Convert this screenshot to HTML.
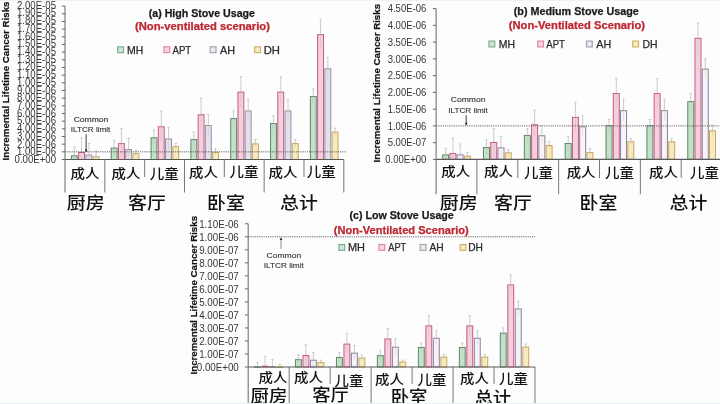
<!DOCTYPE html>
<html><head><meta charset="utf-8"><title>Incremental Lifetime Cancer Risks</title>
<style>
html,body{margin:0;padding:0;background:#fdfdfd;}
body{width:720px;height:404px;overflow:hidden;position:relative;}
.top{position:absolute;left:0;top:0;width:720px;height:1.2px;background:#ecf2fb;z-index:2;}
.bot{position:absolute;left:0;top:403px;width:720px;height:1px;background:#eef2f7;z-index:2;}
svg{position:absolute;left:0;top:0;filter:blur(0.4px);}
</style></head>
<body>
<div class="top"></div><div class="bot"></div>
<svg width="720" height="404" viewBox="0 0 720 404" shape-rendering="auto">
<line x1="61.80" y1="159.50" x2="65.00" y2="159.50" stroke="#555" stroke-width="0.9"/>
<text x="56.00" y="163.04" font-size="10.4" text-anchor="end" font-weight="normal" fill="#363636" font-family='"Liberation Sans", sans-serif' textLength="41.41" lengthAdjust="spacingAndGlyphs" stroke="#363636" stroke-width="0">0.00E+00</text>
<line x1="61.80" y1="151.83" x2="65.00" y2="151.83" stroke="#555" stroke-width="0.9"/>
<text x="56.00" y="155.32" font-size="10.4" text-anchor="end" font-weight="normal" fill="#363636" font-family='"Liberation Sans", sans-serif' textLength="39.00" lengthAdjust="spacingAndGlyphs" stroke="#363636" stroke-width="0">1.00E-06</text>
<line x1="61.80" y1="144.16" x2="65.00" y2="144.16" stroke="#555" stroke-width="0.9"/>
<text x="56.00" y="147.60" font-size="10.4" text-anchor="end" font-weight="normal" fill="#363636" font-family='"Liberation Sans", sans-serif' textLength="39.00" lengthAdjust="spacingAndGlyphs" stroke="#363636" stroke-width="0">2.00E-06</text>
<line x1="61.80" y1="136.49" x2="65.00" y2="136.49" stroke="#555" stroke-width="0.9"/>
<text x="56.00" y="139.88" font-size="10.4" text-anchor="end" font-weight="normal" fill="#363636" font-family='"Liberation Sans", sans-serif' textLength="39.00" lengthAdjust="spacingAndGlyphs" stroke="#363636" stroke-width="0">3.00E-06</text>
<line x1="61.80" y1="128.82" x2="65.00" y2="128.82" stroke="#555" stroke-width="0.9"/>
<text x="56.00" y="132.16" font-size="10.4" text-anchor="end" font-weight="normal" fill="#363636" font-family='"Liberation Sans", sans-serif' textLength="39.00" lengthAdjust="spacingAndGlyphs" stroke="#363636" stroke-width="0">4.00E-06</text>
<line x1="61.80" y1="121.15" x2="65.00" y2="121.15" stroke="#555" stroke-width="0.9"/>
<text x="56.00" y="124.44" font-size="10.4" text-anchor="end" font-weight="normal" fill="#363636" font-family='"Liberation Sans", sans-serif' textLength="39.00" lengthAdjust="spacingAndGlyphs" stroke="#363636" stroke-width="0">5.00E-06</text>
<line x1="61.80" y1="113.48" x2="65.00" y2="113.48" stroke="#555" stroke-width="0.9"/>
<text x="56.00" y="116.72" font-size="10.4" text-anchor="end" font-weight="normal" fill="#363636" font-family='"Liberation Sans", sans-serif' textLength="39.00" lengthAdjust="spacingAndGlyphs" stroke="#363636" stroke-width="0">6.00E-06</text>
<line x1="61.80" y1="105.81" x2="65.00" y2="105.81" stroke="#555" stroke-width="0.9"/>
<text x="56.00" y="109.00" font-size="10.4" text-anchor="end" font-weight="normal" fill="#363636" font-family='"Liberation Sans", sans-serif' textLength="39.00" lengthAdjust="spacingAndGlyphs" stroke="#363636" stroke-width="0">7.00E-06</text>
<line x1="61.80" y1="98.14" x2="65.00" y2="98.14" stroke="#555" stroke-width="0.9"/>
<text x="56.00" y="101.28" font-size="10.4" text-anchor="end" font-weight="normal" fill="#363636" font-family='"Liberation Sans", sans-serif' textLength="39.00" lengthAdjust="spacingAndGlyphs" stroke="#363636" stroke-width="0">8.00E-06</text>
<line x1="61.80" y1="90.47" x2="65.00" y2="90.47" stroke="#555" stroke-width="0.9"/>
<text x="56.00" y="93.56" font-size="10.4" text-anchor="end" font-weight="normal" fill="#363636" font-family='"Liberation Sans", sans-serif' textLength="39.00" lengthAdjust="spacingAndGlyphs" stroke="#363636" stroke-width="0">9.00E-06</text>
<line x1="61.80" y1="82.80" x2="65.00" y2="82.80" stroke="#555" stroke-width="0.9"/>
<text x="56.00" y="85.84" font-size="10.4" text-anchor="end" font-weight="normal" fill="#363636" font-family='"Liberation Sans", sans-serif' textLength="39.00" lengthAdjust="spacingAndGlyphs" stroke="#363636" stroke-width="0">1.00E-05</text>
<line x1="61.80" y1="75.13" x2="65.00" y2="75.13" stroke="#555" stroke-width="0.9"/>
<text x="56.00" y="78.12" font-size="10.4" text-anchor="end" font-weight="normal" fill="#363636" font-family='"Liberation Sans", sans-serif' textLength="39.00" lengthAdjust="spacingAndGlyphs" stroke="#363636" stroke-width="0">1.10E-05</text>
<line x1="61.80" y1="67.46" x2="65.00" y2="67.46" stroke="#555" stroke-width="0.9"/>
<text x="56.00" y="70.40" font-size="10.4" text-anchor="end" font-weight="normal" fill="#363636" font-family='"Liberation Sans", sans-serif' textLength="39.00" lengthAdjust="spacingAndGlyphs" stroke="#363636" stroke-width="0">1.20E-05</text>
<line x1="61.80" y1="59.79" x2="65.00" y2="59.79" stroke="#555" stroke-width="0.9"/>
<text x="56.00" y="62.68" font-size="10.4" text-anchor="end" font-weight="normal" fill="#363636" font-family='"Liberation Sans", sans-serif' textLength="39.00" lengthAdjust="spacingAndGlyphs" stroke="#363636" stroke-width="0">1.30E-05</text>
<line x1="61.80" y1="52.12" x2="65.00" y2="52.12" stroke="#555" stroke-width="0.9"/>
<text x="56.00" y="54.96" font-size="10.4" text-anchor="end" font-weight="normal" fill="#363636" font-family='"Liberation Sans", sans-serif' textLength="39.00" lengthAdjust="spacingAndGlyphs" stroke="#363636" stroke-width="0">1.40E-05</text>
<line x1="61.80" y1="44.45" x2="65.00" y2="44.45" stroke="#555" stroke-width="0.9"/>
<text x="56.00" y="47.24" font-size="10.4" text-anchor="end" font-weight="normal" fill="#363636" font-family='"Liberation Sans", sans-serif' textLength="39.00" lengthAdjust="spacingAndGlyphs" stroke="#363636" stroke-width="0">1.50E-05</text>
<line x1="61.80" y1="36.78" x2="65.00" y2="36.78" stroke="#555" stroke-width="0.9"/>
<text x="56.00" y="39.52" font-size="10.4" text-anchor="end" font-weight="normal" fill="#363636" font-family='"Liberation Sans", sans-serif' textLength="39.00" lengthAdjust="spacingAndGlyphs" stroke="#363636" stroke-width="0">1.60E-05</text>
<line x1="61.80" y1="29.11" x2="65.00" y2="29.11" stroke="#555" stroke-width="0.9"/>
<text x="56.00" y="31.80" font-size="10.4" text-anchor="end" font-weight="normal" fill="#363636" font-family='"Liberation Sans", sans-serif' textLength="39.00" lengthAdjust="spacingAndGlyphs" stroke="#363636" stroke-width="0">1.70E-05</text>
<line x1="61.80" y1="21.44" x2="65.00" y2="21.44" stroke="#555" stroke-width="0.9"/>
<text x="56.00" y="24.08" font-size="10.4" text-anchor="end" font-weight="normal" fill="#363636" font-family='"Liberation Sans", sans-serif' textLength="39.00" lengthAdjust="spacingAndGlyphs" stroke="#363636" stroke-width="0">1.80E-05</text>
<line x1="61.80" y1="13.77" x2="65.00" y2="13.77" stroke="#555" stroke-width="0.9"/>
<text x="56.00" y="16.36" font-size="10.4" text-anchor="end" font-weight="normal" fill="#363636" font-family='"Liberation Sans", sans-serif' textLength="39.00" lengthAdjust="spacingAndGlyphs" stroke="#363636" stroke-width="0">1.90E-05</text>
<line x1="61.80" y1="6.10" x2="65.00" y2="6.10" stroke="#555" stroke-width="0.9"/>
<text x="56.00" y="8.64" font-size="10.4" text-anchor="end" font-weight="normal" fill="#363636" font-family='"Liberation Sans", sans-serif' textLength="39.00" lengthAdjust="spacingAndGlyphs" stroke="#363636" stroke-width="0">2.00E-05</text>
<line x1="65.00" y1="6.10" x2="65.00" y2="192.50" stroke="#666" stroke-width="1"/>
<line x1="104.83" y1="159.50" x2="104.83" y2="192.50" stroke="#777" stroke-width="1"/>
<line x1="144.66" y1="159.50" x2="144.66" y2="177.00" stroke="#777" stroke-width="1"/>
<line x1="184.49" y1="159.50" x2="184.49" y2="192.50" stroke="#777" stroke-width="1"/>
<line x1="224.32" y1="159.50" x2="224.32" y2="177.00" stroke="#777" stroke-width="1"/>
<line x1="264.15" y1="159.50" x2="264.15" y2="192.50" stroke="#777" stroke-width="1"/>
<line x1="303.98" y1="159.50" x2="303.98" y2="177.00" stroke="#777" stroke-width="1"/>
<line x1="343.81" y1="159.50" x2="343.81" y2="192.50" stroke="#777" stroke-width="1"/>
<rect x="71.39" y="155.78" width="5.90" height="3.72" fill="#c4e0c6" stroke="#5b886b" stroke-width="1"/>
<line x1="74.34" y1="147.23" x2="74.34" y2="155.28" stroke="#b8b8b8" stroke-width="0.7"/>
<line x1="74.34" y1="155.28" x2="74.34" y2="159.50" stroke="#b0b0b0" stroke-width="0.6" stroke-opacity="0.5"/>
<line x1="73.04" y1="147.23" x2="75.64" y2="147.23" stroke="#b8b8b8" stroke-width="0.7"/>
<rect x="78.64" y="152.48" width="5.90" height="7.02" fill="#f4d0de" stroke="#c95a80" stroke-width="1"/>
<line x1="81.59" y1="138.02" x2="81.59" y2="151.98" stroke="#b8b8b8" stroke-width="0.7"/>
<line x1="81.59" y1="151.98" x2="81.59" y2="159.50" stroke="#b0b0b0" stroke-width="0.6" stroke-opacity="0.5"/>
<line x1="80.29" y1="138.02" x2="82.89" y2="138.02" stroke="#b8b8b8" stroke-width="0.7"/>
<rect x="85.89" y="155.09" width="5.90" height="4.41" fill="#e3e2ea" stroke="#9790a4" stroke-width="1"/>
<line x1="88.84" y1="143.39" x2="88.84" y2="154.59" stroke="#b8b8b8" stroke-width="0.7"/>
<line x1="88.84" y1="154.59" x2="88.84" y2="159.50" stroke="#b0b0b0" stroke-width="0.6" stroke-opacity="0.5"/>
<line x1="87.54" y1="143.39" x2="90.14" y2="143.39" stroke="#b8b8b8" stroke-width="0.7"/>
<rect x="93.14" y="156.70" width="5.90" height="2.80" fill="#f7eac0" stroke="#c9a95c" stroke-width="1"/>
<line x1="96.09" y1="151.06" x2="96.09" y2="156.20" stroke="#b8b8b8" stroke-width="0.7"/>
<line x1="96.09" y1="156.20" x2="96.09" y2="159.50" stroke="#b0b0b0" stroke-width="0.6" stroke-opacity="0.5"/>
<line x1="94.79" y1="151.06" x2="97.39" y2="151.06" stroke="#b8b8b8" stroke-width="0.7"/>
<rect x="111.22" y="148.03" width="5.90" height="11.47" fill="#c4e0c6" stroke="#5b886b" stroke-width="1"/>
<line x1="114.17" y1="140.32" x2="114.17" y2="147.53" stroke="#b8b8b8" stroke-width="0.7"/>
<line x1="114.17" y1="147.53" x2="114.17" y2="154.74" stroke="#b0b0b0" stroke-width="0.6" stroke-opacity="0.5"/>
<line x1="112.87" y1="140.32" x2="115.47" y2="140.32" stroke="#b8b8b8" stroke-width="0.7"/>
<rect x="118.47" y="143.59" width="5.90" height="15.91" fill="#f4d0de" stroke="#c95a80" stroke-width="1"/>
<line x1="121.42" y1="128.28" x2="121.42" y2="143.09" stroke="#b8b8b8" stroke-width="0.7"/>
<line x1="121.42" y1="143.09" x2="121.42" y2="157.89" stroke="#b0b0b0" stroke-width="0.6" stroke-opacity="0.5"/>
<line x1="120.12" y1="128.28" x2="122.72" y2="128.28" stroke="#b8b8b8" stroke-width="0.7"/>
<rect x="125.72" y="149.57" width="5.90" height="9.93" fill="#e3e2ea" stroke="#9790a4" stroke-width="1"/>
<line x1="128.67" y1="138.02" x2="128.67" y2="149.07" stroke="#b8b8b8" stroke-width="0.7"/>
<line x1="128.67" y1="149.07" x2="128.67" y2="159.50" stroke="#b0b0b0" stroke-width="0.6" stroke-opacity="0.5"/>
<line x1="127.37" y1="138.02" x2="129.97" y2="138.02" stroke="#b8b8b8" stroke-width="0.7"/>
<rect x="132.97" y="153.63" width="5.90" height="5.87" fill="#f7eac0" stroke="#c9a95c" stroke-width="1"/>
<line x1="135.92" y1="150.30" x2="135.92" y2="153.13" stroke="#b8b8b8" stroke-width="0.7"/>
<line x1="135.92" y1="153.13" x2="135.92" y2="155.97" stroke="#b0b0b0" stroke-width="0.6" stroke-opacity="0.5"/>
<line x1="134.62" y1="150.30" x2="137.22" y2="150.30" stroke="#b8b8b8" stroke-width="0.7"/>
<rect x="151.05" y="137.76" width="5.90" height="21.74" fill="#c4e0c6" stroke="#5b886b" stroke-width="1"/>
<line x1="154.00" y1="130.35" x2="154.00" y2="137.26" stroke="#b8b8b8" stroke-width="0.7"/>
<line x1="154.00" y1="137.26" x2="154.00" y2="144.16" stroke="#b0b0b0" stroke-width="0.6" stroke-opacity="0.5"/>
<line x1="152.70" y1="130.35" x2="155.30" y2="130.35" stroke="#b8b8b8" stroke-width="0.7"/>
<rect x="158.30" y="126.79" width="5.90" height="32.71" fill="#f4d0de" stroke="#c95a80" stroke-width="1"/>
<line x1="161.25" y1="111.18" x2="161.25" y2="126.29" stroke="#b8b8b8" stroke-width="0.7"/>
<line x1="161.25" y1="126.29" x2="161.25" y2="141.40" stroke="#b0b0b0" stroke-width="0.6" stroke-opacity="0.5"/>
<line x1="159.95" y1="111.18" x2="162.55" y2="111.18" stroke="#b8b8b8" stroke-width="0.7"/>
<rect x="165.55" y="138.91" width="5.90" height="20.59" fill="#e3e2ea" stroke="#9790a4" stroke-width="1"/>
<line x1="168.50" y1="127.29" x2="168.50" y2="138.41" stroke="#b8b8b8" stroke-width="0.7"/>
<line x1="168.50" y1="138.41" x2="168.50" y2="149.53" stroke="#b0b0b0" stroke-width="0.6" stroke-opacity="0.5"/>
<line x1="167.20" y1="127.29" x2="169.80" y2="127.29" stroke="#b8b8b8" stroke-width="0.7"/>
<rect x="172.80" y="146.58" width="5.90" height="12.92" fill="#f7eac0" stroke="#c9a95c" stroke-width="1"/>
<line x1="175.75" y1="143.39" x2="175.75" y2="146.08" stroke="#b8b8b8" stroke-width="0.7"/>
<line x1="175.75" y1="146.08" x2="175.75" y2="148.76" stroke="#b0b0b0" stroke-width="0.6" stroke-opacity="0.5"/>
<line x1="174.45" y1="143.39" x2="177.05" y2="143.39" stroke="#b8b8b8" stroke-width="0.7"/>
<rect x="190.88" y="139.60" width="5.90" height="19.90" fill="#c4e0c6" stroke="#5b886b" stroke-width="1"/>
<line x1="193.83" y1="131.89" x2="193.83" y2="139.10" stroke="#b8b8b8" stroke-width="0.7"/>
<line x1="193.83" y1="139.10" x2="193.83" y2="146.31" stroke="#b0b0b0" stroke-width="0.6" stroke-opacity="0.5"/>
<line x1="192.53" y1="131.89" x2="195.13" y2="131.89" stroke="#b8b8b8" stroke-width="0.7"/>
<rect x="198.13" y="114.75" width="5.90" height="44.75" fill="#f4d0de" stroke="#c95a80" stroke-width="1"/>
<line x1="201.08" y1="98.14" x2="201.08" y2="114.25" stroke="#b8b8b8" stroke-width="0.7"/>
<line x1="201.08" y1="114.25" x2="201.08" y2="130.35" stroke="#b0b0b0" stroke-width="0.6" stroke-opacity="0.5"/>
<line x1="199.78" y1="98.14" x2="202.38" y2="98.14" stroke="#b8b8b8" stroke-width="0.7"/>
<rect x="205.38" y="125.48" width="5.90" height="34.02" fill="#e3e2ea" stroke="#9790a4" stroke-width="1"/>
<line x1="208.33" y1="114.25" x2="208.33" y2="124.98" stroke="#b8b8b8" stroke-width="0.7"/>
<line x1="208.33" y1="124.98" x2="208.33" y2="135.72" stroke="#b0b0b0" stroke-width="0.6" stroke-opacity="0.5"/>
<line x1="207.03" y1="114.25" x2="209.63" y2="114.25" stroke="#b8b8b8" stroke-width="0.7"/>
<rect x="212.63" y="152.33" width="5.90" height="7.17" fill="#f7eac0" stroke="#c9a95c" stroke-width="1"/>
<line x1="215.58" y1="148.76" x2="215.58" y2="151.83" stroke="#b8b8b8" stroke-width="0.7"/>
<line x1="215.58" y1="151.83" x2="215.58" y2="154.90" stroke="#b0b0b0" stroke-width="0.6" stroke-opacity="0.5"/>
<line x1="214.28" y1="148.76" x2="216.88" y2="148.76" stroke="#b8b8b8" stroke-width="0.7"/>
<rect x="230.71" y="118.58" width="5.90" height="40.92" fill="#c4e0c6" stroke="#5b886b" stroke-width="1"/>
<line x1="233.66" y1="110.80" x2="233.66" y2="118.08" stroke="#b8b8b8" stroke-width="0.7"/>
<line x1="233.66" y1="118.08" x2="233.66" y2="125.37" stroke="#b0b0b0" stroke-width="0.6" stroke-opacity="0.5"/>
<line x1="232.36" y1="110.80" x2="234.96" y2="110.80" stroke="#b8b8b8" stroke-width="0.7"/>
<rect x="237.96" y="92.12" width="5.90" height="67.38" fill="#f4d0de" stroke="#c95a80" stroke-width="1"/>
<line x1="240.91" y1="76.66" x2="240.91" y2="91.62" stroke="#b8b8b8" stroke-width="0.7"/>
<line x1="240.91" y1="91.62" x2="240.91" y2="106.58" stroke="#b0b0b0" stroke-width="0.6" stroke-opacity="0.5"/>
<line x1="239.61" y1="76.66" x2="242.21" y2="76.66" stroke="#b8b8b8" stroke-width="0.7"/>
<rect x="245.21" y="110.91" width="5.90" height="48.59" fill="#e3e2ea" stroke="#9790a4" stroke-width="1"/>
<line x1="248.16" y1="99.29" x2="248.16" y2="110.41" stroke="#b8b8b8" stroke-width="0.7"/>
<line x1="248.16" y1="110.41" x2="248.16" y2="121.53" stroke="#b0b0b0" stroke-width="0.6" stroke-opacity="0.5"/>
<line x1="246.86" y1="99.29" x2="249.46" y2="99.29" stroke="#b8b8b8" stroke-width="0.7"/>
<rect x="252.46" y="143.89" width="5.90" height="15.61" fill="#f7eac0" stroke="#c9a95c" stroke-width="1"/>
<line x1="255.41" y1="139.56" x2="255.41" y2="143.39" stroke="#b8b8b8" stroke-width="0.7"/>
<line x1="255.41" y1="143.39" x2="255.41" y2="147.23" stroke="#b0b0b0" stroke-width="0.6" stroke-opacity="0.5"/>
<line x1="254.11" y1="139.56" x2="256.71" y2="139.56" stroke="#b8b8b8" stroke-width="0.7"/>
<rect x="270.54" y="123.57" width="5.90" height="35.93" fill="#c4e0c6" stroke="#5b886b" stroke-width="1"/>
<line x1="273.49" y1="115.78" x2="273.49" y2="123.07" stroke="#b8b8b8" stroke-width="0.7"/>
<line x1="273.49" y1="123.07" x2="273.49" y2="130.35" stroke="#b0b0b0" stroke-width="0.6" stroke-opacity="0.5"/>
<line x1="272.19" y1="115.78" x2="274.79" y2="115.78" stroke="#b8b8b8" stroke-width="0.7"/>
<rect x="277.79" y="92.12" width="5.90" height="67.38" fill="#f4d0de" stroke="#c95a80" stroke-width="1"/>
<line x1="280.74" y1="76.66" x2="280.74" y2="91.62" stroke="#b8b8b8" stroke-width="0.7"/>
<line x1="280.74" y1="91.62" x2="280.74" y2="106.58" stroke="#b0b0b0" stroke-width="0.6" stroke-opacity="0.5"/>
<line x1="279.44" y1="76.66" x2="282.04" y2="76.66" stroke="#b8b8b8" stroke-width="0.7"/>
<rect x="285.04" y="110.91" width="5.90" height="48.59" fill="#e3e2ea" stroke="#9790a4" stroke-width="1"/>
<line x1="287.99" y1="99.29" x2="287.99" y2="110.41" stroke="#b8b8b8" stroke-width="0.7"/>
<line x1="287.99" y1="110.41" x2="287.99" y2="121.53" stroke="#b0b0b0" stroke-width="0.6" stroke-opacity="0.5"/>
<line x1="286.69" y1="99.29" x2="289.29" y2="99.29" stroke="#b8b8b8" stroke-width="0.7"/>
<rect x="292.29" y="143.59" width="5.90" height="15.91" fill="#f7eac0" stroke="#c9a95c" stroke-width="1"/>
<line x1="295.24" y1="139.56" x2="295.24" y2="143.09" stroke="#b8b8b8" stroke-width="0.7"/>
<line x1="295.24" y1="143.09" x2="295.24" y2="146.61" stroke="#b0b0b0" stroke-width="0.6" stroke-opacity="0.5"/>
<line x1="293.94" y1="139.56" x2="296.54" y2="139.56" stroke="#b8b8b8" stroke-width="0.7"/>
<rect x="310.37" y="96.57" width="5.90" height="62.93" fill="#c4e0c6" stroke="#5b886b" stroke-width="1"/>
<line x1="313.32" y1="88.94" x2="313.32" y2="96.07" stroke="#b8b8b8" stroke-width="0.7"/>
<line x1="313.32" y1="96.07" x2="313.32" y2="103.20" stroke="#b0b0b0" stroke-width="0.6" stroke-opacity="0.5"/>
<line x1="312.02" y1="88.94" x2="314.62" y2="88.94" stroke="#b8b8b8" stroke-width="0.7"/>
<rect x="317.62" y="34.60" width="5.90" height="124.90" fill="#f4d0de" stroke="#c95a80" stroke-width="1"/>
<line x1="320.57" y1="19.14" x2="320.57" y2="34.10" stroke="#b8b8b8" stroke-width="0.7"/>
<line x1="320.57" y1="34.10" x2="320.57" y2="49.05" stroke="#b0b0b0" stroke-width="0.6" stroke-opacity="0.5"/>
<line x1="319.27" y1="19.14" x2="321.87" y2="19.14" stroke="#b8b8b8" stroke-width="0.7"/>
<rect x="324.87" y="68.73" width="5.90" height="90.77" fill="#e3e2ea" stroke="#9790a4" stroke-width="1"/>
<line x1="327.82" y1="57.49" x2="327.82" y2="68.23" stroke="#b8b8b8" stroke-width="0.7"/>
<line x1="327.82" y1="68.23" x2="327.82" y2="78.97" stroke="#b0b0b0" stroke-width="0.6" stroke-opacity="0.5"/>
<line x1="326.52" y1="57.49" x2="329.12" y2="57.49" stroke="#b8b8b8" stroke-width="0.7"/>
<rect x="332.12" y="132.08" width="5.90" height="27.42" fill="#f7eac0" stroke="#c9a95c" stroke-width="1"/>
<line x1="335.07" y1="128.05" x2="335.07" y2="131.58" stroke="#b8b8b8" stroke-width="0.7"/>
<line x1="335.07" y1="131.58" x2="335.07" y2="135.11" stroke="#b0b0b0" stroke-width="0.6" stroke-opacity="0.5"/>
<line x1="333.77" y1="128.05" x2="336.37" y2="128.05" stroke="#b8b8b8" stroke-width="0.7"/>
<line x1="65.00" y1="159.50" x2="343.81" y2="159.50" stroke="#5a5a5a" stroke-width="1.1"/>
<line x1="65.00" y1="151.83" x2="346.00" y2="151.83" stroke="#555" stroke-width="0.9" stroke-dasharray="1.2 1"/>
<text x="91.00" y="122.40" font-size="8.0" text-anchor="middle" font-weight="normal" fill="#3a3a3a" font-family='"Liberation Sans", sans-serif' textLength="34.70" lengthAdjust="spacingAndGlyphs" stroke="#3a3a3a" stroke-width="0.15">Common</text>
<text x="90.60" y="132.20" font-size="8.0" text-anchor="middle" font-weight="normal" fill="#3a3a3a" font-family='"Liberation Sans", sans-serif' textLength="39.50" lengthAdjust="spacingAndGlyphs" stroke="#3a3a3a" stroke-width="0.15">ILTCR limit</text>
<line x1="86.10" y1="134.30" x2="86.10" y2="152.00" stroke="#2a2a2a" stroke-width="0.9"/>
<path d="M84.80,149.40 L87.40,149.40 L86.10,152.00 Z" fill="#222"/>
<text transform="translate(5.60,81.00) rotate(-90)" x="0" y="3.31" font-size="9.2" text-anchor="middle" font-weight="bold" fill="#111" stroke="#111" stroke-width="0.2" font-family='"Liberation Sans", sans-serif' textLength="159" lengthAdjust="spacingAndGlyphs">Incremental Lifetime Cancer Risks</text>
<text x="148.75" y="16.65" font-size="10.4" text-anchor="start" font-weight="bold" fill="#1a1a1a" font-family='"Liberation Sans", sans-serif' textLength="106.25" lengthAdjust="spacingAndGlyphs" stroke="#1a1a1a" stroke-width="0.25">(a) High Stove Usage</text>
<text x="135.00" y="30.40" font-size="10.4" text-anchor="start" font-weight="bold" fill="#bd2630" font-family='"Liberation Sans", sans-serif' textLength="135.00" lengthAdjust="spacingAndGlyphs" stroke="#bd2630" stroke-width="0.25">(Non-ventilated scenario)</text>
<rect x="117.70" y="46.80" width="5.80" height="5.80" fill="#cfe6d6" stroke="#7fae8f" stroke-width="1.2"/>
<text x="127.00" y="53.50" font-size="10.2" text-anchor="start" font-weight="normal" fill="#2a2a2a" font-family='"Liberation Sans", sans-serif' textLength="16.25" lengthAdjust="spacingAndGlyphs" stroke="#2a2a2a" stroke-width="0.25">MH</text>
<rect x="163.95" y="46.80" width="5.80" height="5.80" fill="#fad6e0" stroke="#de8aa2" stroke-width="1.2"/>
<text x="172.50" y="53.50" font-size="10.2" text-anchor="start" font-weight="normal" fill="#2a2a2a" font-family='"Liberation Sans", sans-serif' textLength="18.75" lengthAdjust="spacingAndGlyphs" stroke="#2a2a2a" stroke-width="0.25">APT</text>
<rect x="210.20" y="46.80" width="5.80" height="5.80" fill="#ecebf0" stroke="#a7a2b3" stroke-width="1.2"/>
<text x="220.00" y="53.50" font-size="10.2" text-anchor="start" font-weight="normal" fill="#2a2a2a" font-family='"Liberation Sans", sans-serif' textLength="15.00" lengthAdjust="spacingAndGlyphs" stroke="#2a2a2a" stroke-width="0.25">AH</text>
<rect x="254.70" y="46.80" width="5.80" height="5.80" fill="#f8eac2" stroke="#cfb26a" stroke-width="1.2"/>
<text x="263.75" y="53.50" font-size="10.2" text-anchor="start" font-weight="normal" fill="#2a2a2a" font-family='"Liberation Sans", sans-serif' textLength="16.25" lengthAdjust="spacingAndGlyphs" stroke="#2a2a2a" stroke-width="0.25">DH</text>
<text x="85.00" y="178.20" font-size="13" text-anchor="middle" font-weight="500" fill="#111" font-family='"Liberation Sans", "Noto Sans CJK SC", sans-serif' textLength="28.90" lengthAdjust="spacingAndGlyphs" >成人</text>
<text x="126.00" y="178.20" font-size="13" text-anchor="middle" font-weight="500" fill="#111" font-family='"Liberation Sans", "Noto Sans CJK SC", sans-serif' textLength="28.90" lengthAdjust="spacingAndGlyphs" >成人</text>
<text x="164.20" y="177.80" font-size="13" text-anchor="middle" font-weight="500" fill="#111" font-family='"Liberation Sans", "Noto Sans CJK SC", sans-serif' textLength="28.90" lengthAdjust="spacingAndGlyphs" >儿童</text>
<text x="203.45" y="177.20" font-size="13" text-anchor="middle" font-weight="500" fill="#111" font-family='"Liberation Sans", "Noto Sans CJK SC", sans-serif' textLength="28.90" lengthAdjust="spacingAndGlyphs" >成人</text>
<text x="244.00" y="176.40" font-size="13" text-anchor="middle" font-weight="500" fill="#111" font-family='"Liberation Sans", "Noto Sans CJK SC", sans-serif' textLength="28.90" lengthAdjust="spacingAndGlyphs" >儿童</text>
<text x="282.90" y="177.20" font-size="13" text-anchor="middle" font-weight="500" fill="#111" font-family='"Liberation Sans", "Noto Sans CJK SC", sans-serif' textLength="28.90" lengthAdjust="spacingAndGlyphs" >成人</text>
<text x="321.20" y="175.80" font-size="13" text-anchor="middle" font-weight="500" fill="#111" font-family='"Liberation Sans", "Noto Sans CJK SC", sans-serif' textLength="28.90" lengthAdjust="spacingAndGlyphs" >儿童</text>
<text x="66.80" y="208.50" font-size="17" text-anchor="start" font-weight="500" fill="#111" font-family='"Liberation Sans", "Noto Sans CJK SC", sans-serif' textLength="37.80" lengthAdjust="spacingAndGlyphs" >厨房</text>
<text x="128.00" y="208.50" font-size="17" text-anchor="start" font-weight="500" fill="#111" font-family='"Liberation Sans", "Noto Sans CJK SC", sans-serif' textLength="37.80" lengthAdjust="spacingAndGlyphs" >客厅</text>
<text x="207.00" y="208.50" font-size="17" text-anchor="start" font-weight="500" fill="#111" font-family='"Liberation Sans", "Noto Sans CJK SC", sans-serif' textLength="37.80" lengthAdjust="spacingAndGlyphs" >卧室</text>
<text x="280.00" y="208.50" font-size="17" text-anchor="start" font-weight="500" fill="#111" font-family='"Liberation Sans", "Noto Sans CJK SC", sans-serif' textLength="37.80" lengthAdjust="spacingAndGlyphs" >总计</text>
<line x1="432.90" y1="159.40" x2="436.10" y2="159.40" stroke="#555" stroke-width="0.9"/>
<text x="426.30" y="163.14" font-size="10.4" text-anchor="end" font-weight="normal" fill="#363636" font-family='"Liberation Sans", sans-serif' textLength="40.99" lengthAdjust="spacingAndGlyphs" stroke="#363636" stroke-width="0">0.00E+00</text>
<line x1="432.90" y1="142.65" x2="436.10" y2="142.65" stroke="#555" stroke-width="0.9"/>
<text x="426.30" y="146.39" font-size="10.4" text-anchor="end" font-weight="normal" fill="#363636" font-family='"Liberation Sans", sans-serif' textLength="38.60" lengthAdjust="spacingAndGlyphs" stroke="#363636" stroke-width="0">5.00E-07</text>
<line x1="432.90" y1="125.90" x2="436.10" y2="125.90" stroke="#555" stroke-width="0.9"/>
<text x="426.30" y="129.64" font-size="10.4" text-anchor="end" font-weight="normal" fill="#363636" font-family='"Liberation Sans", sans-serif' textLength="38.60" lengthAdjust="spacingAndGlyphs" stroke="#363636" stroke-width="0">1.00E-06</text>
<line x1="432.90" y1="109.15" x2="436.10" y2="109.15" stroke="#555" stroke-width="0.9"/>
<text x="426.30" y="112.89" font-size="10.4" text-anchor="end" font-weight="normal" fill="#363636" font-family='"Liberation Sans", sans-serif' textLength="38.60" lengthAdjust="spacingAndGlyphs" stroke="#363636" stroke-width="0">1.50E-06</text>
<line x1="432.90" y1="92.40" x2="436.10" y2="92.40" stroke="#555" stroke-width="0.9"/>
<text x="426.30" y="96.14" font-size="10.4" text-anchor="end" font-weight="normal" fill="#363636" font-family='"Liberation Sans", sans-serif' textLength="38.60" lengthAdjust="spacingAndGlyphs" stroke="#363636" stroke-width="0">2.00E-06</text>
<line x1="432.90" y1="75.65" x2="436.10" y2="75.65" stroke="#555" stroke-width="0.9"/>
<text x="426.30" y="79.39" font-size="10.4" text-anchor="end" font-weight="normal" fill="#363636" font-family='"Liberation Sans", sans-serif' textLength="38.60" lengthAdjust="spacingAndGlyphs" stroke="#363636" stroke-width="0">2.50E-06</text>
<line x1="432.90" y1="58.90" x2="436.10" y2="58.90" stroke="#555" stroke-width="0.9"/>
<text x="426.30" y="62.64" font-size="10.4" text-anchor="end" font-weight="normal" fill="#363636" font-family='"Liberation Sans", sans-serif' textLength="38.60" lengthAdjust="spacingAndGlyphs" stroke="#363636" stroke-width="0">3.00E-06</text>
<line x1="432.90" y1="42.15" x2="436.10" y2="42.15" stroke="#555" stroke-width="0.9"/>
<text x="426.30" y="45.89" font-size="10.4" text-anchor="end" font-weight="normal" fill="#363636" font-family='"Liberation Sans", sans-serif' textLength="38.60" lengthAdjust="spacingAndGlyphs" stroke="#363636" stroke-width="0">3.50E-06</text>
<line x1="432.90" y1="25.40" x2="436.10" y2="25.40" stroke="#555" stroke-width="0.9"/>
<text x="426.30" y="29.14" font-size="10.4" text-anchor="end" font-weight="normal" fill="#363636" font-family='"Liberation Sans", sans-serif' textLength="38.60" lengthAdjust="spacingAndGlyphs" stroke="#363636" stroke-width="0">4.00E-06</text>
<line x1="432.90" y1="8.65" x2="436.10" y2="8.65" stroke="#555" stroke-width="0.9"/>
<text x="426.30" y="12.39" font-size="10.4" text-anchor="end" font-weight="normal" fill="#363636" font-family='"Liberation Sans", sans-serif' textLength="38.60" lengthAdjust="spacingAndGlyphs" stroke="#363636" stroke-width="0">4.50E-06</text>
<line x1="436.10" y1="8.65" x2="436.10" y2="194.30" stroke="#666" stroke-width="1"/>
<line x1="476.95" y1="159.40" x2="476.95" y2="194.30" stroke="#777" stroke-width="1"/>
<line x1="517.80" y1="159.40" x2="517.80" y2="178.00" stroke="#777" stroke-width="1"/>
<line x1="558.65" y1="159.40" x2="558.65" y2="194.30" stroke="#777" stroke-width="1"/>
<line x1="599.50" y1="159.40" x2="599.50" y2="178.00" stroke="#777" stroke-width="1"/>
<line x1="640.35" y1="159.40" x2="640.35" y2="194.30" stroke="#777" stroke-width="1"/>
<line x1="681.20" y1="159.40" x2="681.20" y2="178.00" stroke="#777" stroke-width="1"/>
<line x1="722.05" y1="159.40" x2="722.05" y2="194.30" stroke="#777" stroke-width="1"/>
<rect x="442.65" y="154.88" width="6.00" height="4.52" fill="#c4e0c6" stroke="#5b886b" stroke-width="1"/>
<line x1="445.65" y1="148.34" x2="445.65" y2="154.38" stroke="#b8b8b8" stroke-width="0.7"/>
<line x1="445.65" y1="154.38" x2="445.65" y2="159.40" stroke="#b0b0b0" stroke-width="0.6" stroke-opacity="0.5"/>
<line x1="444.35" y1="148.34" x2="446.95" y2="148.34" stroke="#b8b8b8" stroke-width="0.7"/>
<rect x="449.90" y="153.53" width="6.00" height="5.87" fill="#f4d0de" stroke="#c95a80" stroke-width="1"/>
<line x1="452.90" y1="138.30" x2="452.90" y2="153.03" stroke="#b8b8b8" stroke-width="0.7"/>
<line x1="452.90" y1="153.03" x2="452.90" y2="159.40" stroke="#b0b0b0" stroke-width="0.6" stroke-opacity="0.5"/>
<line x1="451.60" y1="138.30" x2="454.20" y2="138.30" stroke="#b8b8b8" stroke-width="0.7"/>
<rect x="457.15" y="154.88" width="6.00" height="4.52" fill="#f7f5f9" stroke="#8a809c" stroke-width="1"/>
<line x1="460.15" y1="143.99" x2="460.15" y2="154.38" stroke="#b8b8b8" stroke-width="0.7"/>
<line x1="460.15" y1="154.38" x2="460.15" y2="159.40" stroke="#b0b0b0" stroke-width="0.6" stroke-opacity="0.5"/>
<line x1="458.85" y1="143.99" x2="461.45" y2="143.99" stroke="#b8b8b8" stroke-width="0.7"/>
<rect x="464.40" y="156.22" width="6.00" height="3.19" fill="#f7eac0" stroke="#c9a95c" stroke-width="1"/>
<line x1="467.40" y1="152.37" x2="467.40" y2="155.72" stroke="#b8b8b8" stroke-width="0.7"/>
<line x1="467.40" y1="155.72" x2="467.40" y2="159.06" stroke="#b0b0b0" stroke-width="0.6" stroke-opacity="0.5"/>
<line x1="466.10" y1="152.37" x2="468.70" y2="152.37" stroke="#b8b8b8" stroke-width="0.7"/>
<rect x="483.50" y="147.50" width="6.00" height="11.89" fill="#c4e0c6" stroke="#5b886b" stroke-width="1"/>
<line x1="486.50" y1="139.97" x2="486.50" y2="147.00" stroke="#b8b8b8" stroke-width="0.7"/>
<line x1="486.50" y1="147.00" x2="486.50" y2="154.04" stroke="#b0b0b0" stroke-width="0.6" stroke-opacity="0.5"/>
<line x1="485.20" y1="139.97" x2="487.80" y2="139.97" stroke="#b8b8b8" stroke-width="0.7"/>
<rect x="490.75" y="142.48" width="6.00" height="16.92" fill="#f4d0de" stroke="#c95a80" stroke-width="1"/>
<line x1="493.75" y1="128.58" x2="493.75" y2="141.98" stroke="#b8b8b8" stroke-width="0.7"/>
<line x1="493.75" y1="141.98" x2="493.75" y2="155.38" stroke="#b0b0b0" stroke-width="0.6" stroke-opacity="0.5"/>
<line x1="492.45" y1="128.58" x2="495.05" y2="128.58" stroke="#b8b8b8" stroke-width="0.7"/>
<rect x="498.00" y="147.84" width="6.00" height="11.56" fill="#f7f5f9" stroke="#8a809c" stroke-width="1"/>
<line x1="501.00" y1="136.62" x2="501.00" y2="147.34" stroke="#b8b8b8" stroke-width="0.7"/>
<line x1="501.00" y1="147.34" x2="501.00" y2="158.06" stroke="#b0b0b0" stroke-width="0.6" stroke-opacity="0.5"/>
<line x1="499.70" y1="136.62" x2="502.30" y2="136.62" stroke="#b8b8b8" stroke-width="0.7"/>
<rect x="505.25" y="152.87" width="6.00" height="6.54" fill="#f7eac0" stroke="#c9a95c" stroke-width="1"/>
<line x1="508.25" y1="149.35" x2="508.25" y2="152.37" stroke="#b8b8b8" stroke-width="0.7"/>
<line x1="508.25" y1="152.37" x2="508.25" y2="155.38" stroke="#b0b0b0" stroke-width="0.6" stroke-opacity="0.5"/>
<line x1="506.95" y1="149.35" x2="509.55" y2="149.35" stroke="#b8b8b8" stroke-width="0.7"/>
<rect x="524.35" y="135.44" width="6.00" height="23.95" fill="#c4e0c6" stroke="#5b886b" stroke-width="1"/>
<line x1="527.35" y1="128.58" x2="527.35" y2="134.94" stroke="#b8b8b8" stroke-width="0.7"/>
<line x1="527.35" y1="134.94" x2="527.35" y2="141.31" stroke="#b0b0b0" stroke-width="0.6" stroke-opacity="0.5"/>
<line x1="526.05" y1="128.58" x2="528.65" y2="128.58" stroke="#b8b8b8" stroke-width="0.7"/>
<rect x="531.60" y="124.72" width="6.00" height="34.68" fill="#f4d0de" stroke="#c95a80" stroke-width="1"/>
<line x1="534.60" y1="110.16" x2="534.60" y2="124.22" stroke="#b8b8b8" stroke-width="0.7"/>
<line x1="534.60" y1="124.22" x2="534.60" y2="138.29" stroke="#b0b0b0" stroke-width="0.6" stroke-opacity="0.5"/>
<line x1="533.30" y1="110.16" x2="535.90" y2="110.16" stroke="#b8b8b8" stroke-width="0.7"/>
<rect x="538.85" y="135.78" width="6.00" height="23.62" fill="#f7f5f9" stroke="#8a809c" stroke-width="1"/>
<line x1="541.85" y1="125.56" x2="541.85" y2="135.28" stroke="#b8b8b8" stroke-width="0.7"/>
<line x1="541.85" y1="135.28" x2="541.85" y2="145.00" stroke="#b0b0b0" stroke-width="0.6" stroke-opacity="0.5"/>
<line x1="540.55" y1="125.56" x2="543.15" y2="125.56" stroke="#b8b8b8" stroke-width="0.7"/>
<rect x="546.10" y="145.50" width="6.00" height="13.90" fill="#f7eac0" stroke="#c9a95c" stroke-width="1"/>
<line x1="549.10" y1="141.65" x2="549.10" y2="145.00" stroke="#b8b8b8" stroke-width="0.7"/>
<line x1="549.10" y1="145.00" x2="549.10" y2="148.34" stroke="#b0b0b0" stroke-width="0.6" stroke-opacity="0.5"/>
<line x1="547.80" y1="141.65" x2="550.40" y2="141.65" stroke="#b8b8b8" stroke-width="0.7"/>
<rect x="565.20" y="143.49" width="6.00" height="15.91" fill="#c4e0c6" stroke="#5b886b" stroke-width="1"/>
<line x1="568.20" y1="136.62" x2="568.20" y2="142.99" stroke="#b8b8b8" stroke-width="0.7"/>
<line x1="568.20" y1="142.99" x2="568.20" y2="149.35" stroke="#b0b0b0" stroke-width="0.6" stroke-opacity="0.5"/>
<line x1="566.90" y1="136.62" x2="569.50" y2="136.62" stroke="#b8b8b8" stroke-width="0.7"/>
<rect x="572.45" y="117.36" width="6.00" height="42.05" fill="#f4d0de" stroke="#c95a80" stroke-width="1"/>
<line x1="575.45" y1="102.45" x2="575.45" y2="116.86" stroke="#b8b8b8" stroke-width="0.7"/>
<line x1="575.45" y1="116.86" x2="575.45" y2="131.26" stroke="#b0b0b0" stroke-width="0.6" stroke-opacity="0.5"/>
<line x1="574.15" y1="102.45" x2="576.75" y2="102.45" stroke="#b8b8b8" stroke-width="0.7"/>
<rect x="579.70" y="126.74" width="6.00" height="32.66" fill="#f7f5f9" stroke="#8a809c" stroke-width="1"/>
<line x1="582.70" y1="115.85" x2="582.70" y2="126.24" stroke="#b8b8b8" stroke-width="0.7"/>
<line x1="582.70" y1="126.24" x2="582.70" y2="136.62" stroke="#b0b0b0" stroke-width="0.6" stroke-opacity="0.5"/>
<line x1="581.40" y1="115.85" x2="584.00" y2="115.85" stroke="#b8b8b8" stroke-width="0.7"/>
<rect x="586.95" y="152.53" width="6.00" height="6.87" fill="#f7eac0" stroke="#c9a95c" stroke-width="1"/>
<line x1="589.95" y1="148.68" x2="589.95" y2="152.03" stroke="#b8b8b8" stroke-width="0.7"/>
<line x1="589.95" y1="152.03" x2="589.95" y2="155.38" stroke="#b0b0b0" stroke-width="0.6" stroke-opacity="0.5"/>
<line x1="588.65" y1="148.68" x2="591.25" y2="148.68" stroke="#b8b8b8" stroke-width="0.7"/>
<rect x="606.05" y="125.73" width="6.00" height="33.67" fill="#c4e0c6" stroke="#5b886b" stroke-width="1"/>
<line x1="609.05" y1="119.54" x2="609.05" y2="125.23" stroke="#b8b8b8" stroke-width="0.7"/>
<line x1="609.05" y1="125.23" x2="609.05" y2="130.93" stroke="#b0b0b0" stroke-width="0.6" stroke-opacity="0.5"/>
<line x1="607.75" y1="119.54" x2="610.35" y2="119.54" stroke="#b8b8b8" stroke-width="0.7"/>
<rect x="613.30" y="93.57" width="6.00" height="65.83" fill="#f4d0de" stroke="#c95a80" stroke-width="1"/>
<line x1="616.30" y1="78.67" x2="616.30" y2="93.07" stroke="#b8b8b8" stroke-width="0.7"/>
<line x1="616.30" y1="93.07" x2="616.30" y2="107.48" stroke="#b0b0b0" stroke-width="0.6" stroke-opacity="0.5"/>
<line x1="615.00" y1="78.67" x2="617.60" y2="78.67" stroke="#b8b8b8" stroke-width="0.7"/>
<rect x="620.55" y="110.66" width="6.00" height="48.74" fill="#f7f5f9" stroke="#8a809c" stroke-width="1"/>
<line x1="623.55" y1="99.10" x2="623.55" y2="110.16" stroke="#b8b8b8" stroke-width="0.7"/>
<line x1="623.55" y1="110.16" x2="623.55" y2="121.21" stroke="#b0b0b0" stroke-width="0.6" stroke-opacity="0.5"/>
<line x1="622.25" y1="99.10" x2="624.85" y2="99.10" stroke="#b8b8b8" stroke-width="0.7"/>
<rect x="627.80" y="141.81" width="6.00" height="17.59" fill="#f7eac0" stroke="#c9a95c" stroke-width="1"/>
<line x1="630.80" y1="138.63" x2="630.80" y2="141.31" stroke="#b8b8b8" stroke-width="0.7"/>
<line x1="630.80" y1="141.31" x2="630.80" y2="143.99" stroke="#b0b0b0" stroke-width="0.6" stroke-opacity="0.5"/>
<line x1="629.50" y1="138.63" x2="632.10" y2="138.63" stroke="#b8b8b8" stroke-width="0.7"/>
<rect x="646.90" y="125.73" width="6.00" height="33.67" fill="#c4e0c6" stroke="#5b886b" stroke-width="1"/>
<line x1="649.90" y1="119.54" x2="649.90" y2="125.23" stroke="#b8b8b8" stroke-width="0.7"/>
<line x1="649.90" y1="125.23" x2="649.90" y2="130.93" stroke="#b0b0b0" stroke-width="0.6" stroke-opacity="0.5"/>
<line x1="648.60" y1="119.54" x2="651.20" y2="119.54" stroke="#b8b8b8" stroke-width="0.7"/>
<rect x="654.15" y="93.57" width="6.00" height="65.83" fill="#f4d0de" stroke="#c95a80" stroke-width="1"/>
<line x1="657.15" y1="78.67" x2="657.15" y2="93.07" stroke="#b8b8b8" stroke-width="0.7"/>
<line x1="657.15" y1="93.07" x2="657.15" y2="107.48" stroke="#b0b0b0" stroke-width="0.6" stroke-opacity="0.5"/>
<line x1="655.85" y1="78.67" x2="658.45" y2="78.67" stroke="#b8b8b8" stroke-width="0.7"/>
<rect x="661.40" y="110.66" width="6.00" height="48.74" fill="#f7f5f9" stroke="#8a809c" stroke-width="1"/>
<line x1="664.40" y1="99.10" x2="664.40" y2="110.16" stroke="#b8b8b8" stroke-width="0.7"/>
<line x1="664.40" y1="110.16" x2="664.40" y2="121.21" stroke="#b0b0b0" stroke-width="0.6" stroke-opacity="0.5"/>
<line x1="663.10" y1="99.10" x2="665.70" y2="99.10" stroke="#b8b8b8" stroke-width="0.7"/>
<rect x="668.65" y="141.81" width="6.00" height="17.59" fill="#f7eac0" stroke="#c9a95c" stroke-width="1"/>
<line x1="671.65" y1="138.63" x2="671.65" y2="141.31" stroke="#b8b8b8" stroke-width="0.7"/>
<line x1="671.65" y1="141.31" x2="671.65" y2="143.99" stroke="#b0b0b0" stroke-width="0.6" stroke-opacity="0.5"/>
<line x1="670.35" y1="138.63" x2="672.95" y2="138.63" stroke="#b8b8b8" stroke-width="0.7"/>
<rect x="687.75" y="101.61" width="6.00" height="57.79" fill="#c4e0c6" stroke="#5b886b" stroke-width="1"/>
<line x1="690.75" y1="93.41" x2="690.75" y2="101.11" stroke="#b8b8b8" stroke-width="0.7"/>
<line x1="690.75" y1="101.11" x2="690.75" y2="108.82" stroke="#b0b0b0" stroke-width="0.6" stroke-opacity="0.5"/>
<line x1="689.45" y1="93.41" x2="692.05" y2="93.41" stroke="#b8b8b8" stroke-width="0.7"/>
<rect x="695.00" y="38.30" width="6.00" height="121.10" fill="#f4d0de" stroke="#c95a80" stroke-width="1"/>
<line x1="698.00" y1="23.06" x2="698.00" y2="37.80" stroke="#b8b8b8" stroke-width="0.7"/>
<line x1="698.00" y1="37.80" x2="698.00" y2="52.54" stroke="#b0b0b0" stroke-width="0.6" stroke-opacity="0.5"/>
<line x1="696.70" y1="23.06" x2="699.30" y2="23.06" stroke="#b8b8b8" stroke-width="0.7"/>
<rect x="702.25" y="69.12" width="6.00" height="90.28" fill="#f7f5f9" stroke="#8a809c" stroke-width="1"/>
<line x1="705.25" y1="58.90" x2="705.25" y2="68.62" stroke="#b8b8b8" stroke-width="0.7"/>
<line x1="705.25" y1="68.62" x2="705.25" y2="78.33" stroke="#b0b0b0" stroke-width="0.6" stroke-opacity="0.5"/>
<line x1="703.95" y1="58.90" x2="706.55" y2="58.90" stroke="#b8b8b8" stroke-width="0.7"/>
<rect x="709.50" y="130.75" width="6.00" height="28.64" fill="#f7eac0" stroke="#c9a95c" stroke-width="1"/>
<line x1="712.50" y1="125.23" x2="712.50" y2="130.25" stroke="#b8b8b8" stroke-width="0.7"/>
<line x1="712.50" y1="130.25" x2="712.50" y2="135.28" stroke="#b0b0b0" stroke-width="0.6" stroke-opacity="0.5"/>
<line x1="711.20" y1="125.23" x2="713.80" y2="125.23" stroke="#b8b8b8" stroke-width="0.7"/>
<line x1="436.10" y1="159.40" x2="722.05" y2="159.40" stroke="#5a5a5a" stroke-width="1.1"/>
<line x1="436.10" y1="125.90" x2="720.00" y2="125.90" stroke="#555" stroke-width="0.9" stroke-dasharray="1.2 1"/>
<text x="468.10" y="102.30" font-size="8.0" text-anchor="middle" font-weight="normal" fill="#3a3a3a" font-family='"Liberation Sans", sans-serif' textLength="34.70" lengthAdjust="spacingAndGlyphs" stroke="#3a3a3a" stroke-width="0.15">Common</text>
<text x="468.10" y="112.50" font-size="8.0" text-anchor="middle" font-weight="normal" fill="#3a3a3a" font-family='"Liberation Sans", sans-serif' textLength="39.50" lengthAdjust="spacingAndGlyphs" stroke="#3a3a3a" stroke-width="0.15">ILTCR limit</text>
<line x1="466.20" y1="115.20" x2="466.20" y2="125.30" stroke="#2a2a2a" stroke-width="0.9"/>
<path d="M464.90,122.70 L467.50,122.70 L466.20,125.30 Z" fill="#222"/>
<text transform="translate(377.00,83.20) rotate(-90)" x="0" y="3.31" font-size="9.2" text-anchor="middle" font-weight="bold" fill="#111" stroke="#111" stroke-width="0.2" font-family='"Liberation Sans", sans-serif' textLength="158.5" lengthAdjust="spacingAndGlyphs">Incremental Lifetime Cancer Risks</text>
<text x="513.75" y="14.90" font-size="10.4" text-anchor="start" font-weight="bold" fill="#1a1a1a" font-family='"Liberation Sans", sans-serif' textLength="125.00" lengthAdjust="spacingAndGlyphs" stroke="#1a1a1a" stroke-width="0.25">(b) Medium Stove Usage</text>
<text x="508.75" y="29.15" font-size="10.4" text-anchor="start" font-weight="bold" fill="#bd2630" font-family='"Liberation Sans", sans-serif' textLength="136.25" lengthAdjust="spacingAndGlyphs" stroke="#bd2630" stroke-width="0.25">(Non-Ventilated Scenario)</text>
<rect x="488.95" y="41.10" width="5.80" height="5.80" fill="#cfe6d6" stroke="#7fae8f" stroke-width="1.2"/>
<text x="498.75" y="47.90" font-size="10.2" text-anchor="start" font-weight="normal" fill="#2a2a2a" font-family='"Liberation Sans", sans-serif' textLength="16.25" lengthAdjust="spacingAndGlyphs" stroke="#2a2a2a" stroke-width="0.25">MH</text>
<rect x="537.70" y="41.10" width="5.80" height="5.80" fill="#fad6e0" stroke="#de8aa2" stroke-width="1.2"/>
<text x="546.25" y="47.90" font-size="10.2" text-anchor="start" font-weight="normal" fill="#2a2a2a" font-family='"Liberation Sans", sans-serif' textLength="18.75" lengthAdjust="spacingAndGlyphs" stroke="#2a2a2a" stroke-width="0.25">APT</text>
<rect x="586.45" y="41.10" width="5.80" height="5.80" fill="#ecebf0" stroke="#a7a2b3" stroke-width="1.2"/>
<text x="596.25" y="47.90" font-size="10.2" text-anchor="start" font-weight="normal" fill="#2a2a2a" font-family='"Liberation Sans", sans-serif' textLength="15.00" lengthAdjust="spacingAndGlyphs" stroke="#2a2a2a" stroke-width="0.25">AH</text>
<rect x="632.70" y="41.10" width="5.80" height="5.80" fill="#f8eac2" stroke="#cfb26a" stroke-width="1.2"/>
<text x="642.50" y="47.90" font-size="10.2" text-anchor="start" font-weight="normal" fill="#2a2a2a" font-family='"Liberation Sans", sans-serif' textLength="15.00" lengthAdjust="spacingAndGlyphs" stroke="#2a2a2a" stroke-width="0.25">DH</text>
<text x="455.70" y="176.00" font-size="13" text-anchor="middle" font-weight="500" fill="#111" font-family='"Liberation Sans", "Noto Sans CJK SC", sans-serif' textLength="28.90" lengthAdjust="spacingAndGlyphs" >成人</text>
<text x="498.50" y="176.00" font-size="13" text-anchor="middle" font-weight="500" fill="#111" font-family='"Liberation Sans", "Noto Sans CJK SC", sans-serif' textLength="28.90" lengthAdjust="spacingAndGlyphs" >成人</text>
<text x="538.50" y="176.50" font-size="13" text-anchor="middle" font-weight="500" fill="#111" font-family='"Liberation Sans", "Noto Sans CJK SC", sans-serif' textLength="28.90" lengthAdjust="spacingAndGlyphs" >儿童</text>
<text x="581.10" y="177.00" font-size="13" text-anchor="middle" font-weight="500" fill="#111" font-family='"Liberation Sans", "Noto Sans CJK SC", sans-serif' textLength="28.90" lengthAdjust="spacingAndGlyphs" >成人</text>
<text x="619.50" y="177.00" font-size="13" text-anchor="middle" font-weight="500" fill="#111" font-family='"Liberation Sans", "Noto Sans CJK SC", sans-serif' textLength="28.90" lengthAdjust="spacingAndGlyphs" >儿童</text>
<text x="663.40" y="177.00" font-size="13" text-anchor="middle" font-weight="500" fill="#111" font-family='"Liberation Sans", "Noto Sans CJK SC", sans-serif' textLength="28.90" lengthAdjust="spacingAndGlyphs" >成人</text>
<text x="704.50" y="177.00" font-size="13" text-anchor="middle" font-weight="500" fill="#111" font-family='"Liberation Sans", "Noto Sans CJK SC", sans-serif' textLength="28.90" lengthAdjust="spacingAndGlyphs" >儿童</text>
<text x="439.80" y="208.50" font-size="17" text-anchor="start" font-weight="500" fill="#111" font-family='"Liberation Sans", "Noto Sans CJK SC", sans-serif' textLength="37.80" lengthAdjust="spacingAndGlyphs" >厨房</text>
<text x="494.00" y="208.50" font-size="17" text-anchor="start" font-weight="500" fill="#111" font-family='"Liberation Sans", "Noto Sans CJK SC", sans-serif' textLength="37.80" lengthAdjust="spacingAndGlyphs" >客厅</text>
<text x="579.50" y="208.50" font-size="17" text-anchor="start" font-weight="500" fill="#111" font-family='"Liberation Sans", "Noto Sans CJK SC", sans-serif' textLength="37.80" lengthAdjust="spacingAndGlyphs" >卧室</text>
<text x="669.50" y="208.50" font-size="17" text-anchor="start" font-weight="500" fill="#111" font-family='"Liberation Sans", "Noto Sans CJK SC", sans-serif' textLength="37.80" lengthAdjust="spacingAndGlyphs" >总计</text>
<line x1="245.00" y1="367.00" x2="248.20" y2="367.00" stroke="#555" stroke-width="0.9"/>
<text x="238.80" y="370.74" font-size="10.4" text-anchor="end" font-weight="normal" fill="#363636" font-family='"Liberation Sans", sans-serif' textLength="42.05" lengthAdjust="spacingAndGlyphs" stroke="#363636" stroke-width="0">0.00E+00</text>
<line x1="245.00" y1="353.98" x2="248.20" y2="353.98" stroke="#555" stroke-width="0.9"/>
<text x="238.80" y="357.72" font-size="10.4" text-anchor="end" font-weight="normal" fill="#363636" font-family='"Liberation Sans", sans-serif' textLength="39.60" lengthAdjust="spacingAndGlyphs" stroke="#363636" stroke-width="0">1.00E-07</text>
<line x1="245.00" y1="340.96" x2="248.20" y2="340.96" stroke="#555" stroke-width="0.9"/>
<text x="238.80" y="344.70" font-size="10.4" text-anchor="end" font-weight="normal" fill="#363636" font-family='"Liberation Sans", sans-serif' textLength="39.60" lengthAdjust="spacingAndGlyphs" stroke="#363636" stroke-width="0">2.00E-07</text>
<line x1="245.00" y1="327.94" x2="248.20" y2="327.94" stroke="#555" stroke-width="0.9"/>
<text x="238.80" y="331.68" font-size="10.4" text-anchor="end" font-weight="normal" fill="#363636" font-family='"Liberation Sans", sans-serif' textLength="39.60" lengthAdjust="spacingAndGlyphs" stroke="#363636" stroke-width="0">3.00E-07</text>
<line x1="245.00" y1="314.92" x2="248.20" y2="314.92" stroke="#555" stroke-width="0.9"/>
<text x="238.80" y="318.66" font-size="10.4" text-anchor="end" font-weight="normal" fill="#363636" font-family='"Liberation Sans", sans-serif' textLength="39.60" lengthAdjust="spacingAndGlyphs" stroke="#363636" stroke-width="0">4.00E-07</text>
<line x1="245.00" y1="301.90" x2="248.20" y2="301.90" stroke="#555" stroke-width="0.9"/>
<text x="238.80" y="305.64" font-size="10.4" text-anchor="end" font-weight="normal" fill="#363636" font-family='"Liberation Sans", sans-serif' textLength="39.60" lengthAdjust="spacingAndGlyphs" stroke="#363636" stroke-width="0">5.00E-07</text>
<line x1="245.00" y1="288.88" x2="248.20" y2="288.88" stroke="#555" stroke-width="0.9"/>
<text x="238.80" y="292.62" font-size="10.4" text-anchor="end" font-weight="normal" fill="#363636" font-family='"Liberation Sans", sans-serif' textLength="39.60" lengthAdjust="spacingAndGlyphs" stroke="#363636" stroke-width="0">6.00E-07</text>
<line x1="245.00" y1="275.86" x2="248.20" y2="275.86" stroke="#555" stroke-width="0.9"/>
<text x="238.80" y="279.60" font-size="10.4" text-anchor="end" font-weight="normal" fill="#363636" font-family='"Liberation Sans", sans-serif' textLength="39.60" lengthAdjust="spacingAndGlyphs" stroke="#363636" stroke-width="0">7.00E-07</text>
<line x1="245.00" y1="262.84" x2="248.20" y2="262.84" stroke="#555" stroke-width="0.9"/>
<text x="238.80" y="266.58" font-size="10.4" text-anchor="end" font-weight="normal" fill="#363636" font-family='"Liberation Sans", sans-serif' textLength="39.60" lengthAdjust="spacingAndGlyphs" stroke="#363636" stroke-width="0">8.00E-07</text>
<line x1="245.00" y1="249.82" x2="248.20" y2="249.82" stroke="#555" stroke-width="0.9"/>
<text x="238.80" y="253.56" font-size="10.4" text-anchor="end" font-weight="normal" fill="#363636" font-family='"Liberation Sans", sans-serif' textLength="39.60" lengthAdjust="spacingAndGlyphs" stroke="#363636" stroke-width="0">9.00E-07</text>
<line x1="245.00" y1="236.80" x2="248.20" y2="236.80" stroke="#555" stroke-width="0.9"/>
<text x="238.80" y="240.54" font-size="10.4" text-anchor="end" font-weight="normal" fill="#363636" font-family='"Liberation Sans", sans-serif' textLength="39.60" lengthAdjust="spacingAndGlyphs" stroke="#363636" stroke-width="0">1.00E-06</text>
<line x1="245.00" y1="223.78" x2="248.20" y2="223.78" stroke="#555" stroke-width="0.9"/>
<text x="238.80" y="227.52" font-size="10.4" text-anchor="end" font-weight="normal" fill="#363636" font-family='"Liberation Sans", sans-serif' textLength="39.60" lengthAdjust="spacingAndGlyphs" stroke="#363636" stroke-width="0">1.10E-06</text>
<line x1="248.20" y1="223.78" x2="248.20" y2="404.00" stroke="#666" stroke-width="1"/>
<line x1="289.17" y1="367.00" x2="289.17" y2="404.00" stroke="#777" stroke-width="1"/>
<line x1="330.14" y1="367.00" x2="330.14" y2="384.00" stroke="#777" stroke-width="1"/>
<line x1="371.11" y1="367.00" x2="371.11" y2="404.00" stroke="#777" stroke-width="1"/>
<line x1="412.08" y1="367.00" x2="412.08" y2="384.00" stroke="#777" stroke-width="1"/>
<line x1="453.05" y1="367.00" x2="453.05" y2="404.00" stroke="#777" stroke-width="1"/>
<line x1="494.02" y1="367.00" x2="494.02" y2="384.00" stroke="#777" stroke-width="1"/>
<line x1="534.99" y1="367.00" x2="534.99" y2="404.00" stroke="#777" stroke-width="1"/>
<rect x="254.49" y="366.98" width="5.90" height="0.30" fill="#c4e0c6" stroke="#5b886b" stroke-width="1"/>
<line x1="257.44" y1="362.57" x2="257.44" y2="366.48" stroke="#b8b8b8" stroke-width="0.7"/>
<line x1="257.44" y1="366.48" x2="257.44" y2="367.00" stroke="#b0b0b0" stroke-width="0.6" stroke-opacity="0.5"/>
<line x1="256.13" y1="362.57" x2="258.74" y2="362.57" stroke="#b8b8b8" stroke-width="0.7"/>
<rect x="261.99" y="366.20" width="5.90" height="0.80" fill="#f4d0de" stroke="#c95a80" stroke-width="1"/>
<line x1="264.94" y1="356.32" x2="264.94" y2="365.70" stroke="#b8b8b8" stroke-width="0.7"/>
<line x1="264.94" y1="365.70" x2="264.94" y2="367.00" stroke="#b0b0b0" stroke-width="0.6" stroke-opacity="0.5"/>
<line x1="263.63" y1="356.32" x2="266.24" y2="356.32" stroke="#b8b8b8" stroke-width="0.7"/>
<rect x="269.49" y="366.85" width="5.90" height="0.30" fill="#f5f3f7" stroke="#8a809c" stroke-width="1"/>
<line x1="272.44" y1="359.32" x2="272.44" y2="366.35" stroke="#b8b8b8" stroke-width="0.7"/>
<line x1="272.44" y1="366.35" x2="272.44" y2="367.00" stroke="#b0b0b0" stroke-width="0.6" stroke-opacity="0.5"/>
<line x1="271.13" y1="359.32" x2="273.74" y2="359.32" stroke="#b8b8b8" stroke-width="0.7"/>
<rect x="276.99" y="367.11" width="5.90" height="0.30" fill="#f7eac0" stroke="#c9a95c" stroke-width="1"/>
<line x1="279.94" y1="364.40" x2="279.94" y2="366.61" stroke="#b8b8b8" stroke-width="0.7"/>
<line x1="279.94" y1="366.61" x2="279.94" y2="367.00" stroke="#b0b0b0" stroke-width="0.6" stroke-opacity="0.5"/>
<line x1="278.63" y1="364.40" x2="281.24" y2="364.40" stroke="#b8b8b8" stroke-width="0.7"/>
<rect x="295.45" y="359.69" width="5.90" height="7.31" fill="#c4e0c6" stroke="#5b886b" stroke-width="1"/>
<line x1="298.40" y1="355.02" x2="298.40" y2="359.19" stroke="#b8b8b8" stroke-width="0.7"/>
<line x1="298.40" y1="359.19" x2="298.40" y2="363.35" stroke="#b0b0b0" stroke-width="0.6" stroke-opacity="0.5"/>
<line x1="297.10" y1="355.02" x2="299.70" y2="355.02" stroke="#b8b8b8" stroke-width="0.7"/>
<rect x="302.95" y="355.52" width="5.90" height="11.48" fill="#f4d0de" stroke="#c95a80" stroke-width="1"/>
<line x1="305.90" y1="344.87" x2="305.90" y2="355.02" stroke="#b8b8b8" stroke-width="0.7"/>
<line x1="305.90" y1="355.02" x2="305.90" y2="365.18" stroke="#b0b0b0" stroke-width="0.6" stroke-opacity="0.5"/>
<line x1="304.60" y1="344.87" x2="307.20" y2="344.87" stroke="#b8b8b8" stroke-width="0.7"/>
<rect x="310.45" y="360.21" width="5.90" height="6.79" fill="#f5f3f7" stroke="#8a809c" stroke-width="1"/>
<line x1="313.40" y1="352.42" x2="313.40" y2="359.71" stroke="#b8b8b8" stroke-width="0.7"/>
<line x1="313.40" y1="359.71" x2="313.40" y2="367.00" stroke="#b0b0b0" stroke-width="0.6" stroke-opacity="0.5"/>
<line x1="312.10" y1="352.42" x2="314.70" y2="352.42" stroke="#b8b8b8" stroke-width="0.7"/>
<rect x="317.95" y="362.55" width="5.90" height="4.45" fill="#f7eac0" stroke="#c9a95c" stroke-width="1"/>
<line x1="320.90" y1="360.23" x2="320.90" y2="362.05" stroke="#b8b8b8" stroke-width="0.7"/>
<line x1="320.90" y1="362.05" x2="320.90" y2="363.88" stroke="#b0b0b0" stroke-width="0.6" stroke-opacity="0.5"/>
<line x1="319.60" y1="360.23" x2="322.20" y2="360.23" stroke="#b8b8b8" stroke-width="0.7"/>
<rect x="336.43" y="357.47" width="5.90" height="9.53" fill="#c4e0c6" stroke="#5b886b" stroke-width="1"/>
<line x1="339.38" y1="352.68" x2="339.38" y2="356.97" stroke="#b8b8b8" stroke-width="0.7"/>
<line x1="339.38" y1="356.97" x2="339.38" y2="361.27" stroke="#b0b0b0" stroke-width="0.6" stroke-opacity="0.5"/>
<line x1="338.07" y1="352.68" x2="340.68" y2="352.68" stroke="#b8b8b8" stroke-width="0.7"/>
<rect x="343.93" y="344.06" width="5.90" height="22.94" fill="#f4d0de" stroke="#c95a80" stroke-width="1"/>
<line x1="346.88" y1="333.80" x2="346.88" y2="343.56" stroke="#b8b8b8" stroke-width="0.7"/>
<line x1="346.88" y1="343.56" x2="346.88" y2="353.33" stroke="#b0b0b0" stroke-width="0.6" stroke-opacity="0.5"/>
<line x1="345.57" y1="333.80" x2="348.18" y2="333.80" stroke="#b8b8b8" stroke-width="0.7"/>
<rect x="351.43" y="353.18" width="5.90" height="13.82" fill="#f5f3f7" stroke="#8a809c" stroke-width="1"/>
<line x1="354.38" y1="345.39" x2="354.38" y2="352.68" stroke="#b8b8b8" stroke-width="0.7"/>
<line x1="354.38" y1="352.68" x2="354.38" y2="359.97" stroke="#b0b0b0" stroke-width="0.6" stroke-opacity="0.5"/>
<line x1="353.07" y1="345.39" x2="355.68" y2="345.39" stroke="#b8b8b8" stroke-width="0.7"/>
<rect x="358.93" y="358.00" width="5.90" height="9.00" fill="#f7eac0" stroke="#c9a95c" stroke-width="1"/>
<line x1="361.88" y1="355.02" x2="361.88" y2="357.50" stroke="#b8b8b8" stroke-width="0.7"/>
<line x1="361.88" y1="357.50" x2="361.88" y2="359.97" stroke="#b0b0b0" stroke-width="0.6" stroke-opacity="0.5"/>
<line x1="360.57" y1="355.02" x2="363.18" y2="355.02" stroke="#b8b8b8" stroke-width="0.7"/>
<rect x="377.39" y="355.65" width="5.90" height="11.35" fill="#c4e0c6" stroke="#5b886b" stroke-width="1"/>
<line x1="380.34" y1="350.73" x2="380.34" y2="355.15" stroke="#b8b8b8" stroke-width="0.7"/>
<line x1="380.34" y1="355.15" x2="380.34" y2="359.58" stroke="#b0b0b0" stroke-width="0.6" stroke-opacity="0.5"/>
<line x1="379.04" y1="350.73" x2="381.64" y2="350.73" stroke="#b8b8b8" stroke-width="0.7"/>
<rect x="384.89" y="338.99" width="5.90" height="28.01" fill="#f4d0de" stroke="#c95a80" stroke-width="1"/>
<line x1="387.84" y1="328.59" x2="387.84" y2="338.49" stroke="#b8b8b8" stroke-width="0.7"/>
<line x1="387.84" y1="338.49" x2="387.84" y2="348.38" stroke="#b0b0b0" stroke-width="0.6" stroke-opacity="0.5"/>
<line x1="386.54" y1="328.59" x2="389.14" y2="328.59" stroke="#b8b8b8" stroke-width="0.7"/>
<rect x="392.39" y="347.19" width="5.90" height="19.81" fill="#f5f3f7" stroke="#8a809c" stroke-width="1"/>
<line x1="395.34" y1="339.01" x2="395.34" y2="346.69" stroke="#b8b8b8" stroke-width="0.7"/>
<line x1="395.34" y1="346.69" x2="395.34" y2="354.37" stroke="#b0b0b0" stroke-width="0.6" stroke-opacity="0.5"/>
<line x1="394.04" y1="339.01" x2="396.64" y2="339.01" stroke="#b8b8b8" stroke-width="0.7"/>
<rect x="399.89" y="362.03" width="5.90" height="4.97" fill="#f7eac0" stroke="#c9a95c" stroke-width="1"/>
<line x1="402.84" y1="360.10" x2="402.84" y2="361.53" stroke="#b8b8b8" stroke-width="0.7"/>
<line x1="402.84" y1="361.53" x2="402.84" y2="362.96" stroke="#b0b0b0" stroke-width="0.6" stroke-opacity="0.5"/>
<line x1="401.54" y1="360.10" x2="404.14" y2="360.10" stroke="#b8b8b8" stroke-width="0.7"/>
<rect x="418.37" y="347.45" width="5.90" height="19.55" fill="#c4e0c6" stroke="#5b886b" stroke-width="1"/>
<line x1="421.31" y1="343.04" x2="421.31" y2="346.95" stroke="#b8b8b8" stroke-width="0.7"/>
<line x1="421.31" y1="346.95" x2="421.31" y2="350.86" stroke="#b0b0b0" stroke-width="0.6" stroke-opacity="0.5"/>
<line x1="420.01" y1="343.04" x2="422.62" y2="343.04" stroke="#b8b8b8" stroke-width="0.7"/>
<rect x="425.87" y="325.84" width="5.90" height="41.16" fill="#f4d0de" stroke="#c95a80" stroke-width="1"/>
<line x1="428.81" y1="315.57" x2="428.81" y2="325.34" stroke="#b8b8b8" stroke-width="0.7"/>
<line x1="428.81" y1="325.34" x2="428.81" y2="335.10" stroke="#b0b0b0" stroke-width="0.6" stroke-opacity="0.5"/>
<line x1="427.51" y1="315.57" x2="430.12" y2="315.57" stroke="#b8b8b8" stroke-width="0.7"/>
<rect x="433.37" y="338.20" width="5.90" height="28.79" fill="#f5f3f7" stroke="#8a809c" stroke-width="1"/>
<line x1="436.31" y1="330.80" x2="436.31" y2="337.70" stroke="#b8b8b8" stroke-width="0.7"/>
<line x1="436.31" y1="337.70" x2="436.31" y2="344.61" stroke="#b0b0b0" stroke-width="0.6" stroke-opacity="0.5"/>
<line x1="435.01" y1="330.80" x2="437.62" y2="330.80" stroke="#b8b8b8" stroke-width="0.7"/>
<rect x="440.87" y="357.08" width="5.90" height="9.92" fill="#f7eac0" stroke="#c9a95c" stroke-width="1"/>
<line x1="443.81" y1="354.37" x2="443.81" y2="356.58" stroke="#b8b8b8" stroke-width="0.7"/>
<line x1="443.81" y1="356.58" x2="443.81" y2="358.80" stroke="#b0b0b0" stroke-width="0.6" stroke-opacity="0.5"/>
<line x1="442.51" y1="354.37" x2="445.12" y2="354.37" stroke="#b8b8b8" stroke-width="0.7"/>
<rect x="459.33" y="347.45" width="5.90" height="19.55" fill="#c4e0c6" stroke="#5b886b" stroke-width="1"/>
<line x1="462.28" y1="343.04" x2="462.28" y2="346.95" stroke="#b8b8b8" stroke-width="0.7"/>
<line x1="462.28" y1="346.95" x2="462.28" y2="350.86" stroke="#b0b0b0" stroke-width="0.6" stroke-opacity="0.5"/>
<line x1="460.98" y1="343.04" x2="463.58" y2="343.04" stroke="#b8b8b8" stroke-width="0.7"/>
<rect x="466.83" y="325.84" width="5.90" height="41.16" fill="#f4d0de" stroke="#c95a80" stroke-width="1"/>
<line x1="469.78" y1="315.57" x2="469.78" y2="325.34" stroke="#b8b8b8" stroke-width="0.7"/>
<line x1="469.78" y1="325.34" x2="469.78" y2="335.10" stroke="#b0b0b0" stroke-width="0.6" stroke-opacity="0.5"/>
<line x1="468.48" y1="315.57" x2="471.08" y2="315.57" stroke="#b8b8b8" stroke-width="0.7"/>
<rect x="474.33" y="338.20" width="5.90" height="28.79" fill="#f5f3f7" stroke="#8a809c" stroke-width="1"/>
<line x1="477.28" y1="330.80" x2="477.28" y2="337.70" stroke="#b8b8b8" stroke-width="0.7"/>
<line x1="477.28" y1="337.70" x2="477.28" y2="344.61" stroke="#b0b0b0" stroke-width="0.6" stroke-opacity="0.5"/>
<line x1="475.98" y1="330.80" x2="478.58" y2="330.80" stroke="#b8b8b8" stroke-width="0.7"/>
<rect x="481.83" y="357.08" width="5.90" height="9.92" fill="#f7eac0" stroke="#c9a95c" stroke-width="1"/>
<line x1="484.78" y1="354.37" x2="484.78" y2="356.58" stroke="#b8b8b8" stroke-width="0.7"/>
<line x1="484.78" y1="356.58" x2="484.78" y2="358.80" stroke="#b0b0b0" stroke-width="0.6" stroke-opacity="0.5"/>
<line x1="483.48" y1="354.37" x2="486.08" y2="354.37" stroke="#b8b8b8" stroke-width="0.7"/>
<rect x="500.31" y="333.13" width="5.90" height="33.87" fill="#c4e0c6" stroke="#5b886b" stroke-width="1"/>
<line x1="503.25" y1="327.94" x2="503.25" y2="332.63" stroke="#b8b8b8" stroke-width="0.7"/>
<line x1="503.25" y1="332.63" x2="503.25" y2="337.31" stroke="#b0b0b0" stroke-width="0.6" stroke-opacity="0.5"/>
<line x1="501.95" y1="327.94" x2="504.56" y2="327.94" stroke="#b8b8b8" stroke-width="0.7"/>
<rect x="507.81" y="284.95" width="5.90" height="82.05" fill="#f4d0de" stroke="#c95a80" stroke-width="1"/>
<line x1="510.75" y1="275.21" x2="510.75" y2="284.45" stroke="#b8b8b8" stroke-width="0.7"/>
<line x1="510.75" y1="284.45" x2="510.75" y2="293.70" stroke="#b0b0b0" stroke-width="0.6" stroke-opacity="0.5"/>
<line x1="509.45" y1="275.21" x2="512.05" y2="275.21" stroke="#b8b8b8" stroke-width="0.7"/>
<rect x="515.31" y="308.91" width="5.90" height="58.09" fill="#f5f3f7" stroke="#8a809c" stroke-width="1"/>
<line x1="518.26" y1="301.25" x2="518.26" y2="308.41" stroke="#b8b8b8" stroke-width="0.7"/>
<line x1="518.26" y1="308.41" x2="518.26" y2="315.57" stroke="#b0b0b0" stroke-width="0.6" stroke-opacity="0.5"/>
<line x1="516.96" y1="301.25" x2="519.56" y2="301.25" stroke="#b8b8b8" stroke-width="0.7"/>
<rect x="522.81" y="347.06" width="5.90" height="19.94" fill="#f7eac0" stroke="#c9a95c" stroke-width="1"/>
<line x1="525.76" y1="344.08" x2="525.76" y2="346.56" stroke="#b8b8b8" stroke-width="0.7"/>
<line x1="525.76" y1="346.56" x2="525.76" y2="349.03" stroke="#b0b0b0" stroke-width="0.6" stroke-opacity="0.5"/>
<line x1="524.46" y1="344.08" x2="527.06" y2="344.08" stroke="#b8b8b8" stroke-width="0.7"/>
<line x1="248.20" y1="367.00" x2="534.99" y2="367.00" stroke="#5a5a5a" stroke-width="1.1"/>
<line x1="248.20" y1="236.80" x2="535.00" y2="236.80" stroke="#555" stroke-width="0.9" stroke-dasharray="1.2 1"/>
<text x="283.90" y="257.90" font-size="8.0" text-anchor="middle" font-weight="normal" fill="#3a3a3a" font-family='"Liberation Sans", sans-serif' textLength="34.75" lengthAdjust="spacingAndGlyphs" stroke="#3a3a3a" stroke-width="0.15">Common</text>
<text x="283.75" y="268.40" font-size="8.0" text-anchor="middle" font-weight="normal" fill="#3a3a3a" font-family='"Liberation Sans", sans-serif' textLength="40.00" lengthAdjust="spacingAndGlyphs" stroke="#3a3a3a" stroke-width="0.15">ILTCR limit</text>
<line x1="281.00" y1="248.75" x2="281.00" y2="237.50" stroke="#808080" stroke-width="0.9"/>
<path d="M279.70,240.10 L282.30,240.10 L281.00,237.50 Z" fill="#222"/>
<text transform="translate(194.00,295.20) rotate(-90)" x="0" y="3.31" font-size="9.2" text-anchor="middle" font-weight="bold" fill="#111" stroke="#111" stroke-width="0.2" font-family='"Liberation Sans", sans-serif' textLength="158.5" lengthAdjust="spacingAndGlyphs">Incremental Lifetime Cancer Risks</text>
<text x="349.50" y="219.40" font-size="10.4" text-anchor="start" font-weight="bold" fill="#1a1a1a" font-family='"Liberation Sans", sans-serif' textLength="104.25" lengthAdjust="spacingAndGlyphs" stroke="#1a1a1a" stroke-width="0.25">(c) Low Stove Usage</text>
<text x="333.75" y="233.65" font-size="10.4" text-anchor="start" font-weight="bold" fill="#bd2630" font-family='"Liberation Sans", sans-serif' textLength="135.00" lengthAdjust="spacingAndGlyphs" stroke="#bd2630" stroke-width="0.25">(Non-Ventilated Scenario)</text>
<rect x="338.95" y="244.50" width="5.80" height="5.80" fill="#cfe6d6" stroke="#7fae8f" stroke-width="1.2"/>
<text x="348.00" y="251.20" font-size="10.2" text-anchor="start" font-weight="normal" fill="#2a2a2a" font-family='"Liberation Sans", sans-serif' textLength="17.00" lengthAdjust="spacingAndGlyphs" stroke="#2a2a2a" stroke-width="0.25">MH</text>
<rect x="378.95" y="244.50" width="5.80" height="5.80" fill="#fad6e0" stroke="#de8aa2" stroke-width="1.2"/>
<text x="388.25" y="251.20" font-size="10.2" text-anchor="start" font-weight="normal" fill="#2a2a2a" font-family='"Liberation Sans", sans-serif' textLength="18.00" lengthAdjust="spacingAndGlyphs" stroke="#2a2a2a" stroke-width="0.25">APT</text>
<rect x="420.20" y="244.50" width="5.80" height="5.80" fill="#ecebf0" stroke="#a7a2b3" stroke-width="1.2"/>
<text x="429.50" y="251.20" font-size="10.2" text-anchor="start" font-weight="normal" fill="#2a2a2a" font-family='"Liberation Sans", sans-serif' textLength="14.25" lengthAdjust="spacingAndGlyphs" stroke="#2a2a2a" stroke-width="0.25">AH</text>
<rect x="460.20" y="244.50" width="5.80" height="5.80" fill="#f8eac2" stroke="#cfb26a" stroke-width="1.2"/>
<text x="468.25" y="251.20" font-size="10.2" text-anchor="start" font-weight="normal" fill="#2a2a2a" font-family='"Liberation Sans", sans-serif' textLength="14.75" lengthAdjust="spacingAndGlyphs" stroke="#2a2a2a" stroke-width="0.25">DH</text>
<text x="273.00" y="382.00" font-size="13" text-anchor="middle" font-weight="500" fill="#111" font-family='"Liberation Sans", "Noto Sans CJK SC", sans-serif' textLength="28.90" lengthAdjust="spacingAndGlyphs" >成人</text>
<text x="308.50" y="381.50" font-size="13" text-anchor="middle" font-weight="500" fill="#111" font-family='"Liberation Sans", "Noto Sans CJK SC", sans-serif' textLength="28.90" lengthAdjust="spacingAndGlyphs" >成人</text>
<text x="349.00" y="385.00" font-size="13" text-anchor="middle" font-weight="500" fill="#111" font-family='"Liberation Sans", "Noto Sans CJK SC", sans-serif' textLength="28.90" lengthAdjust="spacingAndGlyphs" >儿童</text>
<text x="389.50" y="384.00" font-size="13" text-anchor="middle" font-weight="500" fill="#111" font-family='"Liberation Sans", "Noto Sans CJK SC", sans-serif' textLength="28.90" lengthAdjust="spacingAndGlyphs" >成人</text>
<text x="432.00" y="384.00" font-size="13" text-anchor="middle" font-weight="500" fill="#111" font-family='"Liberation Sans", "Noto Sans CJK SC", sans-serif' textLength="28.90" lengthAdjust="spacingAndGlyphs" >儿童</text>
<text x="474.50" y="383.00" font-size="13" text-anchor="middle" font-weight="500" fill="#111" font-family='"Liberation Sans", "Noto Sans CJK SC", sans-serif' textLength="28.90" lengthAdjust="spacingAndGlyphs" >成人</text>
<text x="513.50" y="383.00" font-size="13" text-anchor="middle" font-weight="500" fill="#111" font-family='"Liberation Sans", "Noto Sans CJK SC", sans-serif' textLength="28.90" lengthAdjust="spacingAndGlyphs" >儿童</text>
<text x="250.50" y="402.40" font-size="16.6" text-anchor="start" font-weight="500" fill="#111" font-family='"Liberation Sans", "Noto Sans CJK SC", sans-serif' textLength="36.80" lengthAdjust="spacingAndGlyphs" >厨房</text>
<text x="312.20" y="401.30" font-size="16.6" text-anchor="start" font-weight="500" fill="#111" font-family='"Liberation Sans", "Noto Sans CJK SC", sans-serif' textLength="36.80" lengthAdjust="spacingAndGlyphs" >客厅</text>
<text x="390.70" y="402.90" font-size="16.6" text-anchor="start" font-weight="500" fill="#111" font-family='"Liberation Sans", "Noto Sans CJK SC", sans-serif' textLength="36.80" lengthAdjust="spacingAndGlyphs" >卧室</text>
<text x="474.40" y="404.10" font-size="16.6" text-anchor="start" font-weight="500" fill="#111" font-family='"Liberation Sans", "Noto Sans CJK SC", sans-serif' textLength="36.80" lengthAdjust="spacingAndGlyphs" >总计</text>
</svg>
</body></html>
